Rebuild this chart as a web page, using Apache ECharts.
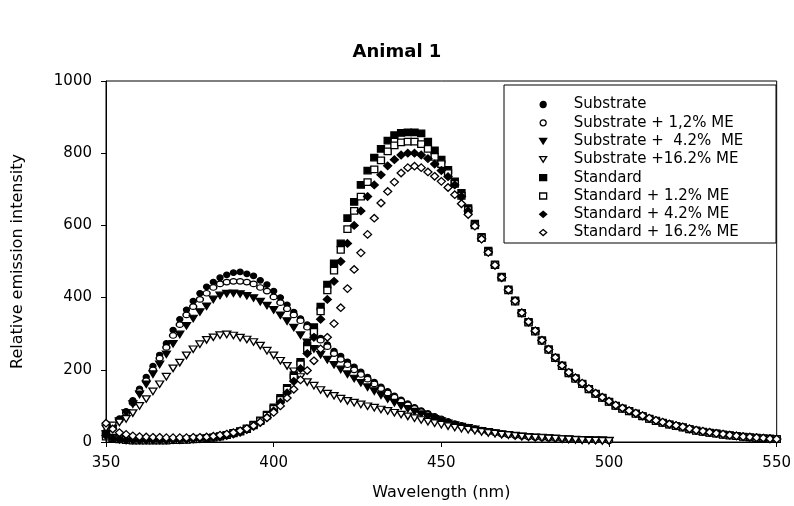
<!DOCTYPE html>
<html>
<head>
<meta charset="utf-8">
<script src="https://cdn.jsdelivr.net/npm/echarts@6/dist/echarts.min.js"></script>
<style>
  html, body { margin: 0; padding: 0; background: #fff; }
  #chart { width: 794px; height: 506px; }
</style>
</head>
<body>
<div id="chart"></div>
<script>
// wavelength grid (nm), 2 nm steps
const wavelength = [350,352,354,356,358,360,362,364,366,368,370,372,374,376,378,380,382,384,386,388,
  390,392,394,396,398,400,402,404,406,408,410,412,414,416,418,420,422,424,426,428,
  430,432,434,436,438,440,442,444,446,448,450,452,454,456,458,460,462,464,466,468,
  470,472,474,476,478,480,482,484,486,488,490,492,494,496,498,500,502,504,506,508,
  510,512,514,516,518,520,522,524,526,528,530,532,534,536,538,540,542,544,546,548,550];

// substrate series run 350-500 nm
const substrate = [28,45,65,85,115,147,180,210,241,273,
  310,340,366,390,412,430,443,455,463,469,
  471,466,460,448,436,418,400,380,360,342,
  325,305,288,270,252,238,222,208,194,180,
  166,153,140,128,117,106,96,87,79,71,
  64,57,51,46,41,37,33,29,26,23,
  21,18,16,15,13,12,11,10,9,8,
  7,6,6,5,5,4];
const substrate12 = [25,40,60,80,108,140,170,200,232,262,
  295,325,352,375,395,412,428,438,443,445,
  445,443,438,428,418,402,386,369,352,336,
  318,300,282,264,245,229,214,200,187,174,
  161,148,136,124,113,103,93,84,76,69,
  62,55,49,44,40,36,32,28,25,22,
  20,18,16,14,13,12,11,10,9,8,
  7,6,6,5,5,4];
const substrate42 = [22,38,58,80,105,132,160,188,215,243,
  272,298,322,342,360,376,395,406,411,412,
  410,405,399,389,378,366,351,335,317,296,
  276,258,242,228,214,201,188,176,164,152,
  141,130,119,109,100,92,84,77,70,64,
  58,52,47,43,39,35,31,28,25,22,
  20,18,16,14,13,12,11,10,9,8,
  7,6,6,5,5,4];
const substrate162 = [38,46,54,64,80,100,119,140,160,181,
  204,220,240,257,271,283,290,296,298,295,
  289,284,277,267,253,240,225,211,196,180,
  166,156,144,134,128,120,114,109,104,99,
  95,90,86,81,76,71,66,61,56,52,
  48,44,40,37,34,31,28,25,23,20,
  19,17,15,13,12,11,10,9,8,7,
  6,5,4,4,3,3];

// standard series run 350-550 nm
const standard = [22,12,8,6,5,5,5,5,5,5,
  6,6,7,8,9,11,13,16,20,25,
  30,38,48,60,76,96,122,150,185,222,
  268,318,375,436,495,550,620,665,712,752,
  788,812,835,850,856,858,858,855,832,808,
  782,754,722,690,648,605,568,530,492,458,
  423,392,358,333,308,282,257,234,212,192,
  177,162,147,134,123,112,101,93,86,79,
  72,65,59,54,49,45,41,36,32,29,
  26,24,21,19,17,15,13,12,10,9,
  8];
const standard12 = [15,10,7,5,4,4,4,4,4,4,
  5,5,6,7,8,10,12,15,19,24,
  29,36,46,58,73,92,117,145,178,215,
  258,305,362,420,475,532,590,640,680,720,
  755,780,805,822,830,832,832,825,812,790,
  770,745,715,682,642,600,565,527,490,455,
  420,389,356,331,306,280,255,232,210,190,
  175,160,146,133,122,111,100,92,85,78,
  71,64,58,53,48,44,40,35,31,28,
  25,23,20,18,16,14,13,11,10,9,
  8];
const standard42 = [18,10,7,5,5,5,5,5,5,5,
  6,6,7,8,9,10,12,14,18,22,
  27,34,43,54,68,86,110,136,168,203,
  245,290,340,395,445,500,550,600,640,680,
  712,740,765,782,795,800,800,795,785,770,
  752,735,712,680,640,600,563,526,489,455,
  421,390,357,332,307,281,256,233,211,191,
  176,161,147,134,123,112,101,93,86,79,
  72,65,59,54,49,45,41,36,32,29,
  26,24,21,19,17,15,13,12,10,9,
  8];
const standard162 = [52,36,26,21,17,15,14,13,13,12,
  12,12,12,13,13,14,16,19,22,26,
  31,37,45,55,67,82,100,122,146,172,
  198,225,258,290,328,372,425,478,524,575,
  620,662,694,720,745,760,764,760,748,736,
  722,705,685,660,630,598,562,525,490,456,
  422,391,358,333,308,282,257,234,212,193,
  178,163,148,135,124,113,102,94,87,80,
  73,66,60,55,50,46,42,37,33,30,
  27,24,22,19,17,15,14,12,11,9,
  8];

const seriesNames = ['Substrate', 'Substrate + 1,2% ME', 'Substrate +  4.2%  ME', 'Substrate +16.2% ME',
  'Standard', 'Standard + 1.2% ME', 'Standard + 4.2% ME', 'Standard + 16.2% ME'];
const seriesValues = [substrate, substrate12, substrate42, substrate162,
  standard, standard12, standard42, standard162];

const triDown = 'path://M0,0L10,0L5,8Z';
const markers = [
  { symbol: 'circle', size: [6, 5.5], open: false },
  { symbol: 'circle', size: [7, 5.5], open: true },
  { symbol: triDown, size: [8, 6.5], open: false },
  { symbol: triDown, size: [8, 6.5], open: true },
  { symbol: 'rect', size: [7, 6.5], open: false },
  { symbol: 'rect', size: [7, 6.5], open: true },
  { symbol: 'diamond', size: [8, 7.5], open: false },
  { symbol: 'diamond', size: [8, 7.5], open: true }
];

const series = seriesNames.map((name, k) => ({
  name: name,
  type: 'scatter',
  symbol: markers[k].symbol,
  symbolSize: markers[k].size,
  itemStyle: {
    color: markers[k].open ? '#fff' : '#000',
    borderColor: '#000',
    borderWidth: 1.3,
    opacity: 1
  },
  emphasis: { disabled: true },
  data: seriesValues[k].map((v, i) => [wavelength[i], v])
}));

const chart = echarts.init(document.getElementById('chart'));
chart.setOption({
  animation: false,
  backgroundColor: '#fff',
  textStyle: { fontFamily: 'DejaVu Sans', color: '#000' },
  title: {
    text: 'Animal 1',
    left: 'center',
    top: 38,
    textStyle: { fontFamily: 'DejaVu Sans', fontSize: 18, fontWeight: 'bold', color: '#000' }
  },
  grid: {
    show: true,
    left: 106, right: 15, top: 81, bottom: 63,
    borderColor: '#000', borderWidth: 1,
    backgroundColor: 'rgba(0,0,0,0)'
  },
  graphic: [{
    type: 'rect',
    z: 1,
    shape: { x: 504, y: 85, width: 272, height: 158 },
    style: { fill: '#fff', stroke: '#000', lineWidth: 1 }
  }],
  legend: {
    orient: 'vertical',
    left: 539,
    top: 97,
    padding: 0,
    itemGap: 3.3,
    itemWidth: 7,
    itemHeight: 6,
    z: 5,
    itemStyle: { borderWidth: 1.3 },
    textStyle: { fontFamily: 'DejaVu Sans', fontSize: 15, color: '#000', padding: [0, 0, 0, 22] },
    data: seriesNames
  },
  xAxis: {
    type: 'value',
    min: 350, max: 550, interval: 50,
    name: 'Wavelength (nm)',
    nameLocation: 'middle',
    nameGap: 43,
    nameTextStyle: { fontFamily: 'DejaVu Sans', fontSize: 16, color: '#000' },
    axisLine: { lineStyle: { color: '#000', width: 1 } },
    axisTick: { inside: false, length: 5, lineStyle: { color: '#000' } },
    axisLabel: { margin: 14, fontSize: 15, color: '#000', fontFamily: 'DejaVu Sans', formatter: v => String(v) },
    splitLine: { show: false }
  },
  yAxis: {
    type: 'value',
    min: 0, max: 1000, interval: 200,
    name: 'Relative emission intensity',
    nameLocation: 'middle',
    nameGap: 80,
    nameTextStyle: { fontFamily: 'DejaVu Sans', fontSize: 16, color: '#000' },
    axisLine: { show: true, lineStyle: { color: '#000', width: 1 } },
    axisTick: { show: true, inside: false, length: 5, lineStyle: { color: '#000' } },
    axisLabel: { margin: 14, fontSize: 15, color: '#000', fontFamily: 'DejaVu Sans', formatter: v => String(v) },
    splitLine: { show: false }
  },
  series: series
});
</script>
</body>
</html>
